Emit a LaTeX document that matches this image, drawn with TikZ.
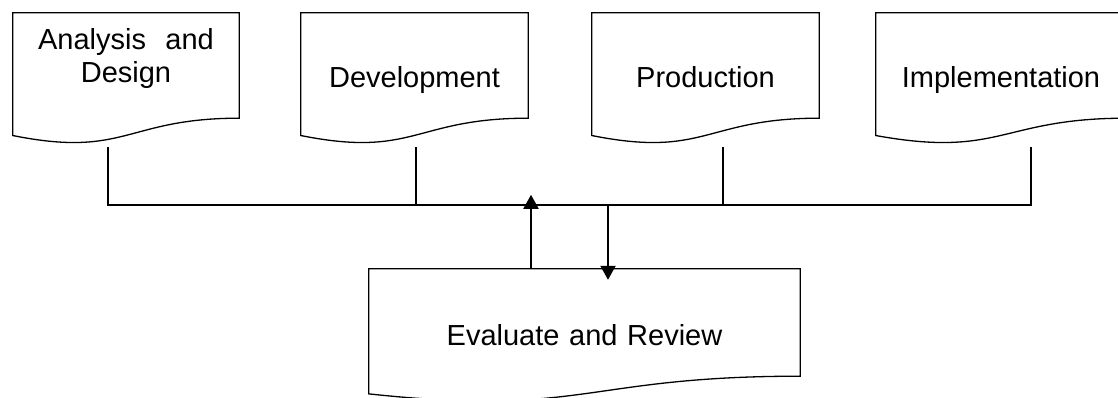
\documentclass[tikz,border=0pt]{standalone}
\usepackage{fontspec}
\setmainfont{Liberation Sans}
\usetikzlibrary{arrows.meta}
\usetikzlibrary{positioning,calc}

% document-shaped outline around a named node
\newcommand{\docoutline}[1]{%
  \draw[docline] let \p1=(#1.north west), \p2=(#1.south east) in
    (\x1,\y1) -- (\x2,\y1) -- (\x2,{\y1+0.802*(\y2-\y1)})
    .. controls ({(\x1+\x2)/2},{\y1+0.802*(\y2-\y1)})
       and ({(\x1+\x2)/2},{\y1+1.1075*(\y2-\y1)})
    .. (\x1,{\y1+0.934*(\y2-\y1)}) -- cycle;}

\begin{document}
\begin{tikzpicture}[
  x=1pt, y=1pt,
  docline/.style={line width=1.3pt},
  wire/.style={line width=1.3pt},
  flow/.style={line width=2pt,-{Triangle[width=15pt,length=14pt]}},
  docbox/.style={rectangle,inner sep=0pt,minimum width=226pt,minimum height=131pt,
    text width=205pt,align=center,text height=21pt,text depth=2pt,
    font=\fontsize{29}{33}\selectfont}
]
\useasboundingbox (0,0) rectangle (1118,397);
\clip (0,0) rectangle (1118,397);

% --- Stages ---
\node[docbox,text depth=78pt]      (ana)  at (126,318.5)   {Analysis\ \ and\\Design};
\node[docbox,minimum width=227pt]  (dev)  at (414.5,318.5) {Development};
\node[docbox,minimum width=227pt]  (prod) at (705.5,318.5) {Production};
\node[docbox,minimum width=250pt]  (impl) at (1001,318.5)  {Implementation};
\node[docbox,minimum width=431pt,minimum height=133.5pt,text width=300pt]
                                   (eval) at (584.5,61.25) {Evaluate and Review};

\foreach \stage in {ana,dev,prod,impl,eval}
  \docoutline{\stage};

% --- Bus ---
\coordinate (ana-out)  at ([xshift=-18pt,yshift=-3pt]ana.south);
\coordinate (dev-out)  at ([xshift=1.5pt,yshift=-3pt]dev.south);
\coordinate (prod-out) at ([xshift=17.5pt,yshift=-3pt]prod.south);
\coordinate (impl-out) at ([xshift=30pt,yshift=-3pt]impl.south);
\coordinate (bus) at (0,192);

\draw[wire] (ana-out) |- (bus -| impl-out) -- (impl-out);
\draw[wire] (dev-out) -- (dev-out |- bus);
\draw[wire] (prod-out) -- (prod-out |- bus);

% --- Feedback ---
\draw[flow] ([xshift=-53.5pt]eval.north) -- ++(0,74);
\draw[flow] ([xshift=23.5pt]eval.north |- bus) -- ([xshift=23.5pt,yshift=-11pt]eval.north);

\end{tikzpicture}
\end{document}
